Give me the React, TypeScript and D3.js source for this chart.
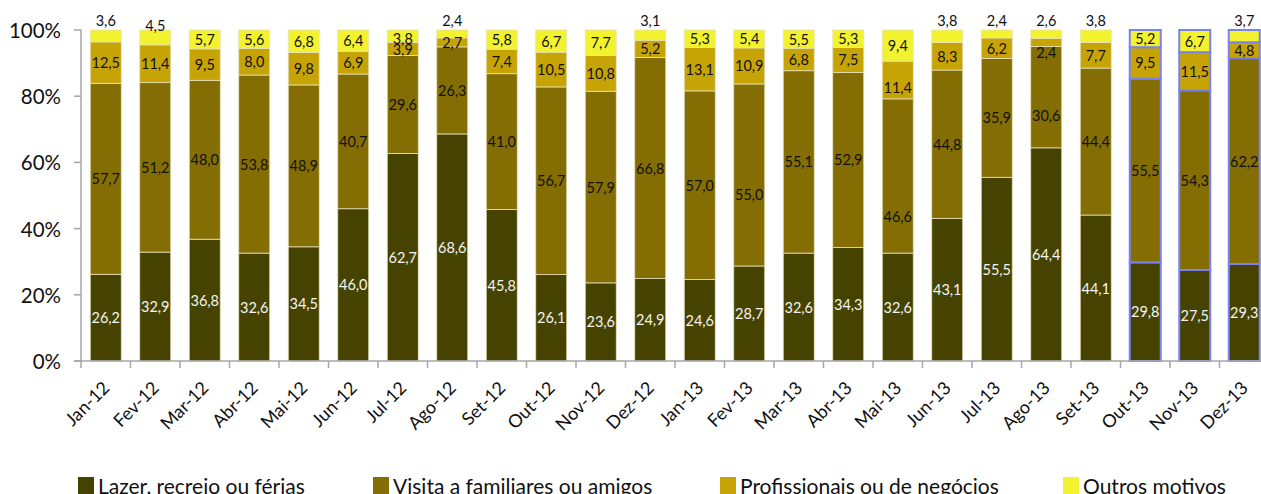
import React from "react";
import * as d3 from "d3";

const categories = [
  "Jan-12", "Fev-12", "Mar-12", "Abr-12", "Mai-12", "Jun-12", "Jul-12", "Ago-12",
  "Set-12", "Out-12", "Nov-12", "Dez-12", "Jan-13", "Fev-13", "Mar-13", "Abr-13",
  "Mai-13", "Jun-13", "Jul-13", "Ago-13", "Set-13", "Out-13", "Nov-13", "Dez-13",
];

const lazer = [26.2, 32.9, 36.8, 32.6, 34.5, 46.0, 62.7, 68.6, 45.8, 26.1, 23.6, 24.9, 24.6, 28.7, 32.6, 34.3, 32.6, 43.1, 55.5, 64.4, 44.1, 29.8, 27.5, 29.3];
const visita = [57.7, 51.2, 48.0, 53.8, 48.9, 40.7, 29.6, 26.3, 41.0, 56.7, 57.9, 66.8, 57.0, 55.0, 55.1, 52.9, 46.6, 44.8, 35.9, 30.6, 44.4, 55.5, 54.3, 62.2];
const profissionais = [12.5, 11.4, 9.5, 8.0, 9.8, 6.9, 3.9, 2.7, 7.4, 10.5, 10.8, 5.2, 13.1, 10.9, 6.8, 7.5, 11.4, 8.3, 6.2, 2.4, 7.7, 9.5, 11.5, 4.8];
const outros = [3.6, 4.5, 5.7, 5.6, 6.8, 6.4, 3.8, 2.4, 5.8, 6.7, 7.7, 3.1, 5.3, 5.4, 5.5, 5.3, 9.4, 3.8, 2.4, 2.6, 3.8, 5.2, 6.7, 3.7];

const seriesNames = [
  "Lazer, recreio ou férias",
  "Visita a familiares ou amigos",
  "Profissionais ou de negócios",
  "Outros motivos",
];
const seriesKeys = ["lazer", "visita", "prof", "outros"];
const seriesValues = [lazer, visita, profissionais, outros];
const yTicks = [0, 0.2, 0.4, 0.6, 0.8, 1];
const highlighted = ["Out-13", "Nov-13", "Dez-13"];

// styling / layout
const colors = ["#464300", "#846D02", "#C7A405", "#F2F22E"];
const labelColors = ["#F4F4F4", "#111", "#111", "#111"];
const W = 1261;
const H = 494;
const plotLeft = 81;
const step = 49.5;
const plotTop = 30;
const plotBottom = 361;
const legendX = [78, 373, 720, 1063];
const FONT = "Lato, 'Open Sans', sans-serif";

// label placement tweaks (pixels, positive = down); "above" = drawn over the bar
const labelAbove = new Set([
  "Jan-12|outros", "Ago-12|outros", "Dez-12|outros", "Jun-13|outros",
  "Jul-13|outros", "Ago-13|outros", "Set-13|outros", "Dez-13|outros",
]);
const labelNudge: Record<string, number> = {
  "Fev-12|outros": -12,
  "Jul-12|outros": 2,
  "Fev-13|visita": 20,
  "Mai-13|visita": 41,
  "Mai-13|prof": 8,
  "Ago-13|visita": 18,
  "Ago-13|prof": 10,
};

export default function App() {
  const rows = categories.map((c, i) => {
    const o: any = { cat: c };
    seriesKeys.forEach((k, s) => (o[k] = seriesValues[s][i]));
    return o;
  });
  const stack = d3.stack<any>().keys(seriesKeys).offset(d3.stackOffsetExpand);
  const layers = stack(rows);

  const n = categories.length;
  const pad = 1 - 31 / step;
  const x = d3
    .scaleBand<string>()
    .domain(categories)
    .range([plotLeft, plotLeft + n * step])
    .paddingInner(pad)
    .paddingOuter(pad / 2);
  const y = d3.scaleLinear().domain([0, 1]).range([plotBottom, plotTop]);
  const fmt = (v: number) => v.toFixed(1).replace(".", ",");
  const pct = d3.format(".0%");

  const bw = x.bandwidth();
  const tickXs = d3.range(n + 1).map((i) => plotLeft + i * step);

  return (
    <svg
      width={W}
      height={H}
      style={{ position: "absolute", left: 0, top: 0, background: "#fff" }}
      fontFamily={FONT}
    >
      {/* bars */}
      {layers.map((layer, s) =>
        layer.map((d, i) => {
          const cat = categories[i];
          const hl = highlighted.includes(cat);
          return (
            <rect
              key={`r${s}-${i}`}
              x={x(cat)}
              y={y(d[1])}
              width={bw}
              height={y(d[0]) - y(d[1])}
              fill={colors[s]}
              stroke={hl ? "#7A82F2" : "#E6E0BC"}
              strokeWidth={hl ? 2 : 0.8}
            />
          );
        })
      )}

      {/* axes */}
      <line x1={plotLeft} x2={plotLeft} y1={plotTop} y2={plotBottom} stroke="#A6A6A6" strokeWidth={1.5} />
      {yTicks.map((t) => (
        <g key={`yt${t}`}>
          <line x1={plotLeft - 7} x2={plotLeft} y1={y(t)} y2={y(t)} stroke="#A6A6A6" strokeWidth={1.5} />
          <text
            x={61}
            y={y(t)}
            textAnchor="end"
            dominantBaseline="central"
            fontSize={20.5}
            fill="#111"
          >
            {pct(t)}
          </text>
        </g>
      ))}
      <line x1={plotLeft - 7} x2={W + 10} y1={plotBottom} y2={plotBottom} stroke="#A6A6A6" strokeWidth={1.5} />
      {tickXs.map((tx, i) => (
        <line key={`xt${i}`} x1={tx} x2={tx} y1={plotBottom} y2={plotBottom + 7} stroke="#A6A6A6" strokeWidth={1.5} />
      ))}
      {categories.map((c) => {
        const cx = (x(c) as number) + bw / 2 + 5;
        const cy = 389;
        return (
          <text
            key={`xl${c}`}
            x={cx}
            y={cy}
            transform={`rotate(-45 ${cx} ${cy})`}
            textAnchor="end"
            fontSize={18}
            fill="#111"
          >
            {c}
          </text>
        );
      })}

      {/* data labels */}
      {layers.map((layer, s) =>
        layer.map((d, i) => {
          const cat = categories[i];
          const key = `${cat}|${seriesKeys[s]}`;
          const cx = (x(cat) as number) + bw / 2;
          let cy = (y(d[0]) + y(d[1])) / 2;
          let fill = labelColors[s];
          if (labelAbove.has(key)) {
            cy = plotTop - 10;
            fill = "#111";
          }
          cy += labelNudge[key] || 0;
          return (
            <text
              key={`l${s}-${i}`}
              x={cx}
              y={cy}
              textAnchor="middle"
              dominantBaseline="central"
              fontSize={14.5}
              fill={fill}
            >
              {fmt(seriesValues[s][i])}
            </text>
          );
        })
      )}

      {/* legend */}
      {seriesNames.map((name, s) => (
        <g key={`lg${s}`}>
          <rect x={legendX[s]} y={477} width={16} height={17} fill={colors[s]} />
          <text x={legendX[s] + 20} y={494} fontSize={21} fill="#111">
            {name}
          </text>
        </g>
      ))}
    </svg>
  );
}
